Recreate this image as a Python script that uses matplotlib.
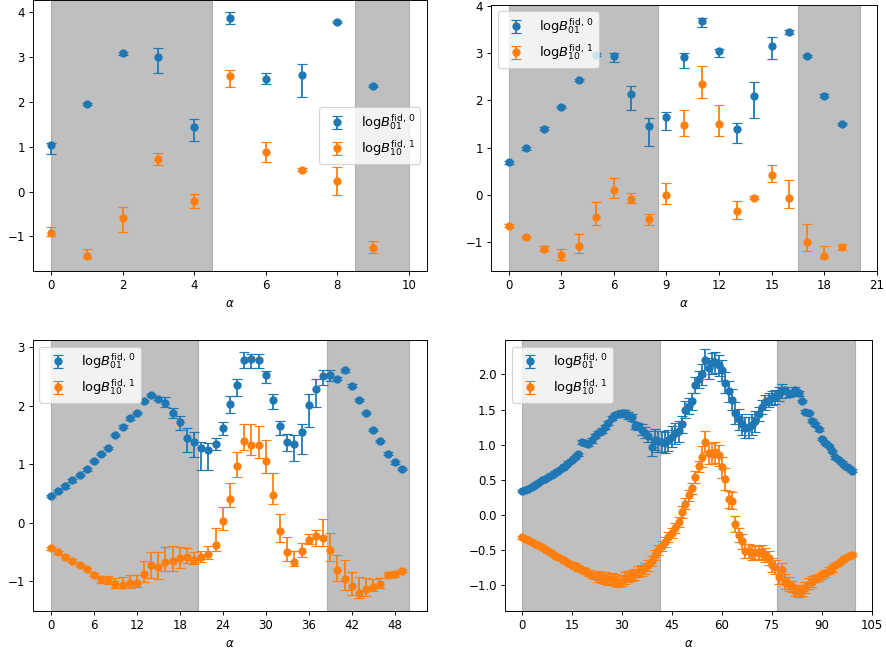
import numpy as np
import matplotlib
matplotlib.use('Agg')
import matplotlib.pyplot as plt
from matplotlib.ticker import MultipleLocator

# panel 1: 10 alphas
tl_b = [1.03, 1.95, 3.08, 3.00, 1.43, 3.86, 2.52, 2.59, 3.78, 2.35]
tl_b_lo = [0.20, 0.03, 0.03, 0.35, 0.30, 0.13, 0.13, 0.49, 0.03, 0.03]
tl_b_hi = [0.05, 0.03, 0.03, 0.20, 0.19, 0.14, 0.13, 0.26, 0.03, 0.03]
tl_o = [-0.93, -1.44, -0.59, 0.73, -0.21, 2.57, 0.89, 0.49, 0.23, -1.26]
tl_o_lo = [0.05, 0.04, 0.31, 0.14, 0.15, 0.24, 0.22, 0.04, 0.31, 0.10]
tl_o_hi = [0.15, 0.16, 0.25, 0.13, 0.15, 0.14, 0.22, 0.04, 0.32, 0.16]

# panel 2: 20 alphas
tr_b = [0.69, 0.99, 1.40, 1.86, 2.43, 2.97, 2.94, 2.13, 1.46, 1.65,
        2.92, 3.68, 3.04, 1.40, 2.10, 3.15, 3.45, 2.94, 2.10, 1.50]
tr_b_lo = [0.03, 0.03, 0.03, 0.03, 0.03, 0.03, 0.12, 0.34, 0.42, 0.28,
           0.24, 0.12, 0.13, 0.30, 0.47, 0.28, 0.05, 0.03, 0.03, 0.03]
tr_b_hi = [0.03, 0.03, 0.03, 0.03, 0.03, 0.03, 0.07, 0.17, 0.17, 0.10,
           0.09, 0.07, 0.05, 0.13, 0.29, 0.20, 0.04, 0.03, 0.03, 0.03]
tr_o = [-0.65, -0.89, -1.14, -1.28, -1.09, -0.46, 0.11, -0.09, -0.52, -0.01,
        1.47, 2.34, 1.51, -0.34, -0.06, 0.42, -0.06, -0.99, -1.30, -1.11]
tr_o_lo = [0.03, 0.03, 0.05, 0.09, 0.14, 0.17, 0.18, 0.09, 0.11, 0.19,
           0.22, 0.28, 0.26, 0.17, 0.03, 0.14, 0.22, 0.19, 0.04, 0.05]
tr_o_hi = [0.03, 0.03, 0.06, 0.14, 0.27, 0.31, 0.24, 0.12, 0.12, 0.26,
           0.32, 0.38, 0.39, 0.21, 0.03, 0.21, 0.38, 0.37, 0.22, 0.07]

# panel 3: 50 alphas
bl_b = [0.45, 0.54, 0.62, 0.72, 0.81, 0.91, 1.05, 1.17, 1.28, 1.50,
        1.64, 1.78, 1.87, 2.08, 2.18, 2.12, 2.05, 1.88, 1.72, 1.44,
        1.38, 1.27, 1.24, 1.34, 1.62, 2.03, 2.35, 2.78, 2.79, 2.78,
        2.53, 2.09, 1.65, 1.37, 1.35, 1.55, 2.01, 2.29, 2.50, 2.53,
        2.46, 2.60, 2.34, 2.10, 1.87, 1.58, 1.40, 1.18, 1.03, 0.92]
bl_b_lo = [0.02] * 15 + [0.03, 0.07, 0.10, 0.14, 0.23, 0.26, 0.37, 0.34, 0.10, 0.13,
                         0.15, 0.19, 0.13, 0.14, 0.13, 0.14, 0.15, 0.15, 0.15, 0.30,
                         0.38, 0.38, 0.31, 0.15, 0.11] + [0.02] * 10
bl_b_hi = [0.02] * 15 + [0.03, 0.10, 0.08, 0.11, 0.17, 0.16, 0.10, 0.12, 0.11, 0.10,
                         0.13, 0.10, 0.14, 0.09, 0.10, 0.06, 0.10, 0.09, 0.14, 0.15,
                         0.13, 0.18, 0.17, 0.10, 0.07] + [0.02] * 10
bl_o = [-0.44, -0.51, -0.58, -0.65, -0.72, -0.80, -0.89, -0.97, -0.98, -1.05,
        -1.06, -1.04, -1.04, -0.88, -0.73, -0.75, -0.68, -0.65, -0.60, -0.59,
        -0.64, -0.58, -0.54, -0.38, 0.03, 0.40, 0.96, 1.39, 1.33, 1.32,
        1.06, 0.47, -0.15, -0.50, -0.68, -0.48, -0.30, -0.23, -0.26, -0.47,
        -0.81, -0.96, -1.08, -1.20, -1.14, -1.10, -1.05, -0.89, -0.88, -0.82]
bl_o_lo = [0.02, 0.02, 0.02, 0.02, 0.02, 0.02, 0.03, 0.06, 0.07, 0.07,
           0.06, 0.08, 0.06, 0.14, 0.22, 0.22, 0.15, 0.17, 0.18, 0.10,
           0.06, 0.09, 0.09, 0.10, 0.16, 0.13, 0.18, 0.15, 0.18, 0.22,
           0.21, 0.15, 0.18, 0.15, 0.06, 0.11, 0.07, 0.17, 0.14, 0.19,
           0.19, 0.19, 0.16, 0.09, 0.11, 0.07, 0.07, 0.05, 0.05, 0.02]
bl_o_hi = [0.02, 0.02, 0.02, 0.02, 0.02, 0.02, 0.03, 0.06, 0.07, 0.11,
           0.13, 0.15, 0.15, 0.23, 0.22, 0.24, 0.26, 0.25, 0.19, 0.15,
           0.14, 0.09, 0.14, 0.28, 0.24, 0.28, 0.25, 0.30, 0.35, 0.33,
           0.35, 0.38, 0.29, 0.25, 0.19, 0.14, 0.10, 0.10, 0.33, 0.30,
           0.25, 0.32, 0.23, 0.27, 0.19, 0.14, 0.10, 0.05, 0.05, 0.02]

# panel 4: 100 alphas (symmetric errors)
br_b = [0.34, 0.35, 0.37, 0.40, 0.43, 0.46, 0.49, 0.51, 0.54, 0.57,
        0.60, 0.63, 0.66, 0.70, 0.74, 0.78, 0.82, 0.86, 1.04, 1.02,
        1.01, 1.06, 1.12, 1.16, 1.20, 1.25, 1.31, 1.38, 1.42, 1.43,
        1.45, 1.45, 1.41, 1.39, 1.27, 1.26, 1.21, 1.17, 1.12, 0.96,
        1.07, 1.05, 1.04, 1.03, 1.06, 1.11, 1.16, 1.19, 1.29, 1.50,
        1.55, 1.62, 1.85, 1.93, 2.00, 2.21, 2.09, 2.16, 2.17, 2.13,
        2.06, 1.88, 1.76, 1.64, 1.45, 1.36, 1.29, 1.24, 1.25, 1.28,
        1.33, 1.43, 1.53, 1.60, 1.64, 1.66, 1.68, 1.72, 1.77, 1.78,
        1.72, 1.74, 1.78, 1.73, 1.62, 1.47, 1.45, 1.34, 1.29, 1.22,
        1.08, 1.03, 0.98, 0.91, 0.82, 0.78, 0.74, 0.70, 0.66, 0.63]
br_b_err = ([0.02] * 18 + [0.03] * 12 + [0.05] * 6 + [0.08] * 3 + [0.12]
            + [0.15] * 8 + [0.12] * 6 + [0.15] * 17 + [0.10] * 8 + [0.04] * 5 + [0.02] * 16)
br_o = [-0.32, -0.34, -0.36, -0.39, -0.41, -0.43, -0.46, -0.49, -0.52, -0.55,
        -0.58, -0.60, -0.63, -0.66, -0.68, -0.71, -0.73, -0.76, -0.78, -0.80,
        -0.83, -0.86, -0.87, -0.88, -0.89, -0.90, -0.92, -0.91, -0.93, -0.95,
        -0.94, -0.90, -0.88, -0.86, -0.85, -0.81, -0.79, -0.76, -0.72, -0.66,
        -0.57, -0.50, -0.44, -0.39, -0.32, -0.26, -0.19, -0.10, 0.04, 0.16,
        0.28, 0.38, 0.54, 0.69, 0.83, 1.04, 0.88, 0.87, 0.89, 0.85,
        0.68, 0.51, 0.22, 0.20, -0.13, -0.29, -0.38, -0.51, -0.52, -0.55,
        -0.53, -0.55, -0.53, -0.57, -0.61, -0.71, -0.75, -0.88, -0.79, -0.95,
        -0.98, -1.02, -1.08, -1.09, -1.08, -1.04, -0.98, -0.95, -0.91, -0.89,
        -0.86, -0.83, -0.80, -0.76, -0.71, -0.68, -0.65, -0.61, -0.59, -0.57]
br_o_err = ([0.02] * 15 + [0.04] * 8 + [0.08] * 16 + [0.07] * 9 + [0.08] * 6
            + [0.15] * 8 + [0.12] * 3 + [0.10] * 16 + [0.08] * 7 + [0.05] * 6 + [0.02] * 6)

# shaded alpha ranges per panel
spans = [[(0, 4.5), (8.5, 10)],
         [(0, 8.5), (16.5, 20)],
         [(0, 20.5), (38.5, 50)],
         [(0, 41.5), (76.5, 100)]]

panels = [
    (tl_b, [tl_b_lo, tl_b_hi], tl_o, [tl_o_lo, tl_o_hi]),
    (tr_b, [tr_b_lo, tr_b_hi], tr_o, [tr_o_lo, tr_o_hi]),
    (bl_b, [bl_b_lo, bl_b_hi], bl_o, [bl_o_lo, bl_o_hi]),
    (br_b, br_b_err, br_o, br_o_err),
]

# axes rectangles (left, bottom, width, height) and styling
rects = [[0.0372, 0.5844, 0.4447, 0.4156],
         [0.5542, 0.5844, 0.4357, 0.4080],
         [0.0372, 0.0629, 0.4447, 0.4156],
         [0.5700, 0.0629, 0.4142, 0.4156]]
ylims = [(-1.77, 4.27), (-1.61, 4.02), (-1.51, 3.12), (-1.37, 2.49)]
tick_steps = [None, 3, 6, 15]
legend_locs = ['center right', 'upper left', 'upper left', 'upper left']

lab0 = r'$\mathrm{log}B^{\mathrm{fid},\,0}_{01}$'
lab1 = r'$\mathrm{log}B^{\mathrm{fid},\,1}_{10}$'

DPI = 85
fig = plt.figure(figsize=(886 / DPI, 652 / DPI), dpi=DPI)

for k, (yb, eb, yo, eo) in enumerate(panels):
    ax = fig.add_axes(rects[k])
    x = np.arange(len(yb))
    for a, b in spans[k]:
        ax.axvspan(a, b, color='gray', alpha=0.5)
    ax.errorbar(x, yb, yerr=np.array(eb), fmt='o', capsize=4, label=lab0)
    ax.errorbar(x, yo, yerr=np.array(eo), fmt='o', capsize=4, label=lab1)
    if tick_steps[k]:
        ax.xaxis.set_major_locator(MultipleLocator(tick_steps[k]))
    ax.set_ylim(*ylims[k])
    ax.set_xlabel(r'$\alpha$')
    ax.legend(loc=legend_locs[k], fontsize=11)

fig.savefig('out.png', dpi=DPI)
